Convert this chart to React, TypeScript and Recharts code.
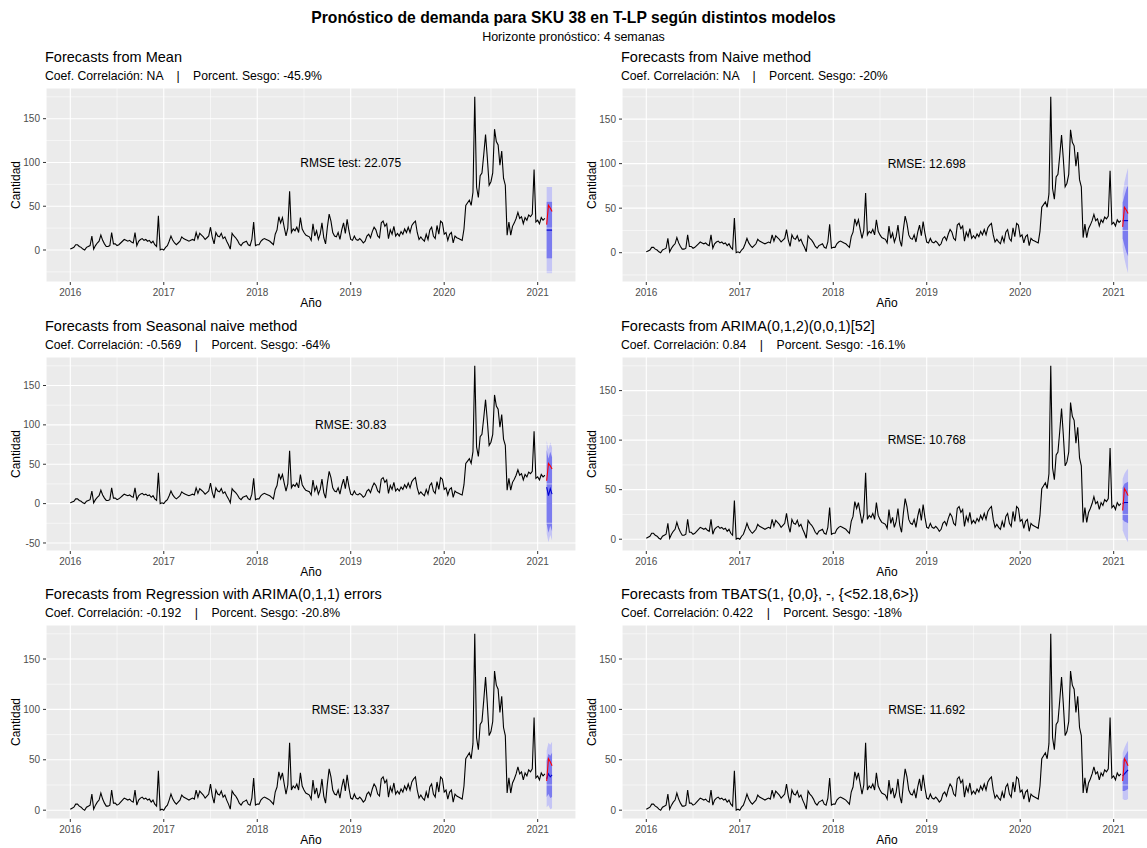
import React from 'react';
import { ComposedChart, Line, Area, XAxis, YAxis, CartesianGrid, ReferenceLine, ReferenceDot } from 'recharts';

const FONT = '"Liberation Sans", Arial, Helvetica, sans-serif';

const y2016 = [1, 2, 3, 6, 6, 4, 3, 1, 0, 3, 4, 5, 16, 1, 5, 8, 10, 17, 11, 7, 4, 4, 5, 20, 7, 7, 5, 6, 8, 10, 12, 11, 10, 11, 9, 8, 20, 5, 10, 12, 13, 11, 12, 10, 11, 8, 10, 6, 4, 39, 0, 1];
const y2017 = [0, 3, 5, 10, 16, 11, 8, 6, 8, 10, 15, 13, 12, 11, 10, 11, 12, 11, 20, 13, 19, 17, 15, 12, 14, 16, 26, 14, 7, 20, 16, 15, 19, 13, 15, 10, 6, 1, 19, 16, 14, 11, 7, 5, 8, 9, 10, 6, 5, 12, 32, 5];
const y2018 = [6, 6, 10, 12, 13, 12, 11, 10, 8, 6, 18, 23, 38, 31, 37, 26, 16, 25, 67, 20, 24, 22, 26, 20, 37, 24, 20, 17, 16, 15, 11, 30, 16, 22, 12, 18, 31, 14, 7, 26, 41, 33, 20, 16, 15, 20, 12, 23, 31, 19, 35, 22];
const y2019 = [12, 11, 16, 12, 11, 13, 11, 8, 10, 16, 18, 14, 21, 26, 23, 16, 14, 31, 33, 27, 30, 13, 23, 18, 27, 16, 19, 16, 21, 18, 24, 20, 26, 20, 28, 31, 33, 20, 12, 15, 12, 10, 18, 12, 23, 26, 16, 13, 28, 18, 33, 31];
const y2020 = [18, 20, 11, 18, 20, 8, 16, 14, 13, 12, 11, 24, 51, 54, 57, 51, 66, 175, 72, 60, 85, 88, 109, 132, 105, 74, 78, 88, 138, 124, 120, 97, 113, 82, 74, 17, 32, 17, 27, 31, 36, 43, 36, 38, 30, 37, 34, 40, 38, 41, 92, 32];
const y2021 = [34, 30, 37, 34, 36];
const serieTrain = [...y2016, ...y2017, ...y2018, ...y2019, ...y2020, ...y2021];

// demanda real del periodo de prueba (4 semanas)
const serieTest = [29, 51, 48, 44];

const xTicks = [2016, 2017, 2018, 2019, 2020, 2021];
const xMinor = [2016.5, 2017.5, 2018.5, 2019.5, 2020.5];
const yTicks = [-50, 0, 50, 100, 150];
const yMinor = [-25, 25, 75, 125, 175];

// pronósticos por modelo
const meanPoint = [22.7, 22.7, 22.7, 22.7];
const meanLo80 = [-9.5, -9.5, -9.5, -9.5];
const meanHi80 = [55, 55, 55, 55];
const meanLo95 = [-26.5, -26.5, -26.5, -26.5];
const meanHi95 = [72, 72, 72, 72];

const naivePoint = [36, 36, 36, 36];
const naiveLo80 = [16, 8, 1, -4];
const naiveHi80 = [56, 64, 71, 76];
const naiveLo95 = [6, -7, -16, -23];
const naiveHi95 = [66, 79, 88, 95];

const snaivePoint = [21, 10, 19, 12];
const snaiveLo80 = [-26, -37, -28, -35];
const snaiveHi80 = [68, 57, 66, 59];
const snaiveLo95 = [-38, -49, -40, -47];
const snaiveHi95 = [80, 69, 78, 71];

const arimaPoint = [36, 37, 37, 37];
const arimaLo80 = [20, 18, 17, 16];
const arimaHi80 = [52, 56, 57, 58];
const arimaLo95 = [9, 4, 0, -3];
const arimaHi95 = [61, 66, 69, 71];

const regPoint = [31, 36, 33, 35];
const regLo80 = [13, 16, 12, 13];
const regHi80 = [49, 56, 54, 57];
const regLo95 = [3, 5, 1, 2];
const regHi95 = [59, 67, 65, 68];

const tbatsPoint = [34, 36, 38, 40];
const tbatsLo80 = [19, 19, 20, 21];
const tbatsHi80 = [49, 53, 56, 59];
const tbatsLo95 = [11, 10, 10, 11];
const tbatsHi95 = [57, 62, 66, 69];

const titles = [
  'Forecasts from Mean',
  'Forecasts from Naive method',
  'Forecasts from Seasonal naive method',
  'Forecasts from ARIMA(0,1,2)(0,0,1)[52]',
  'Forecasts from Regression with ARIMA(0,1,1) errors',
  'Forecasts from TBATS(1, {0,0}, -, {<52.18,6>})',
];
const correlations = ['NA', 'NA', '-0.569', '0.84', '-0.192', '0.422'];
const biases = ['-45.9%', '-20%', '-64%', '-16.1%', '-20.8%', '-18%'];
const rmseLabels = ['RMSE test: 22.075', 'RMSE: 12.698', 'RMSE: 30.83', 'RMSE: 10.768', 'RMSE: 13.337', 'RMSE: 11.692'];

const models = [
  [meanPoint, meanLo80, meanHi80, meanLo95, meanHi95],
  [naivePoint, naiveLo80, naiveHi80, naiveLo95, naiveHi95],
  [snaivePoint, snaiveLo80, snaiveHi80, snaiveLo95, snaiveHi95],
  [arimaPoint, arimaLo80, arimaHi80, arimaLo95, arimaHi95],
  [regPoint, regLo80, regHi80, regLo95, regHi95],
  [tbatsPoint, tbatsLo80, tbatsHi80, tbatsLo95, tbatsHi95],
];

const PLOT_W = 530;
const PLOT_H = 194;
const Y_AXIS_W = 46;
const X_AXIS_H = 22;
const COL_LEFT = [46, 622];
const ROW_TOP = [88, 357, 625];

function buildRows(m: number[][]) {
  const [point, lo80, hi80, lo95, hi95] = m;
  const rows: any[] = serieTrain.map((v, i) => ({ t: 2016 + i / 52, y: v }));
  point.forEach((v, k) => {
    rows.push({
      t: 2016 + (serieTrain.length + k) / 52,
      f: v,
      test: serieTest[k],
      b80: [lo80[k], hi80[k]],
      b95: [lo95[k], hi95[k]],
    });
  });
  return rows;
}

function Panel({ idx }: { idx: number }) {
  const m = models[idx];
  const rows = buildRows(m);
  const all = [...serieTrain, ...serieTest, ...m[3], ...m[4]];
  const lo = Math.min(...all);
  const hi = Math.max(...all);
  const pad = (hi - lo) * 0.05;
  const yDomain = [lo - pad, hi + pad];
  const ticksY = yTicks.filter((v) => v >= yDomain[0] && v <= yDomain[1]);
  const minorY = yMinor.filter((v) => v >= yDomain[0] && v <= yDomain[1]);

  const plotLeft = COL_LEFT[idx % 2];
  const plotTop = ROW_TOP[Math.floor(idx / 2)];

  return (
    <>
      <div style={{ position: 'absolute', left: plotLeft - 1, top: plotTop - 40, fontSize: 14.5, lineHeight: '18px', color: '#000', whiteSpace: 'pre' }}>
        {titles[idx]}
      </div>
      <div style={{ position: 'absolute', left: plotLeft - 1, top: plotTop - 19, fontSize: 12.2, lineHeight: '14px', color: '#000', whiteSpace: 'pre' }}>
        {`Coef. Correlación: ${correlations[idx]}    |    Porcent. Sesgo: ${biases[idx]}`}
      </div>
      <div style={{ position: 'absolute', left: plotLeft, width: PLOT_W, top: plotTop + PLOT_H + 13, fontSize: 12, lineHeight: '16px', textAlign: 'center' }}>
        Año
      </div>
      <div
        style={{
          position: 'absolute',
          left: plotLeft - 30 - 40,
          top: plotTop + PLOT_H / 2 - 8,
          width: 80,
          fontSize: 12,
          lineHeight: '16px',
          textAlign: 'center',
          transform: 'rotate(-90deg)',
        }}
      >
        Cantidad
      </div>
      <div style={{ position: 'absolute', left: plotLeft - Y_AXIS_W, top: plotTop }}>
        <ComposedChart width={Y_AXIS_W + PLOT_W} height={PLOT_H + X_AXIS_H} data={rows} margin={{ top: 0, right: 0, bottom: 0, left: 0 }}>
          <CartesianGrid fill="#EBEBEB" stroke="#FFFFFF" strokeWidth={1.1} />
          <XAxis
            dataKey="t"
            type="number"
            domain={[2015.74, 2021.41]}
            allowDataOverflow
            ticks={xTicks}
            height={X_AXIS_H}
            axisLine={false}
            tickSize={3}
            tickMargin={4}
            tickLine={{ stroke: '#333333' }}
            tick={{ fill: '#4D4D4D', fontSize: 10, fontFamily: FONT }}
          />
          <YAxis
            type="number"
            domain={yDomain}
            allowDataOverflow
            ticks={ticksY}
            width={Y_AXIS_W}
            axisLine={false}
            tickSize={3}
            tickMargin={3}
            tickLine={{ stroke: '#333333' }}
            tick={{ fill: '#4D4D4D', fontSize: 10, fontFamily: FONT }}
          />
          {xMinor.map((v) => (
            <ReferenceLine key={`vx${v}`} x={v} stroke="#FFFFFF" strokeWidth={0.55} />
          ))}
          {minorY.map((v) => (
            <ReferenceLine key={`hy${v}`} y={v} stroke="#FFFFFF" strokeWidth={0.55} />
          ))}
          <Line dataKey="y" type="linear" stroke="#000000" strokeWidth={1.1} dot={false} activeDot={false} isAnimationActive={false} />
          <Area dataKey="b95" type="linear" stroke="none" fill="#C5C5F5" fillOpacity={1} activeDot={false} isAnimationActive={false} />
          <Area dataKey="b80" type="linear" stroke="none" fill="#7B7BEF" fillOpacity={1} activeDot={false} isAnimationActive={false} />
          <Line dataKey="f" type="linear" stroke="#0000D0" strokeWidth={1.1} dot={false} activeDot={false} isAnimationActive={false} />
          <Line dataKey="test" type="linear" stroke="#FF0000" strokeWidth={1.1} dot={false} activeDot={false} isAnimationActive={false} />
          <ReferenceDot
            x={2019}
            y={100}
            r={1}
            fill="none"
            stroke="none"
            label={{ value: rmseLabels[idx], position: 'center', fill: '#000000', fontSize: 12, fontFamily: FONT }}
          />
        </ComposedChart>
      </div>
    </>
  );
}

export default function App() {
  return (
    <div style={{ position: 'fixed', left: 0, top: 0, width: 1147, height: 848, background: '#FFFFFF', overflow: 'hidden', fontFamily: FONT }}>
      <div style={{ position: 'absolute', left: 0, top: 8, width: 1147, textAlign: 'center', fontWeight: 'bold', fontSize: 15.7, lineHeight: '20px' }}>
        Pronóstico de demanda para SKU 38 en T-LP según distintos modelos
      </div>
      <div style={{ position: 'absolute', left: 0, top: 29, width: 1147, textAlign: 'center', fontSize: 12.5, lineHeight: '16px' }}>
        Horizonte pronóstico: 4 semanas
      </div>
      {models.map((_, i) => (
        <Panel key={i} idx={i} />
      ))}
    </div>
  );
}
